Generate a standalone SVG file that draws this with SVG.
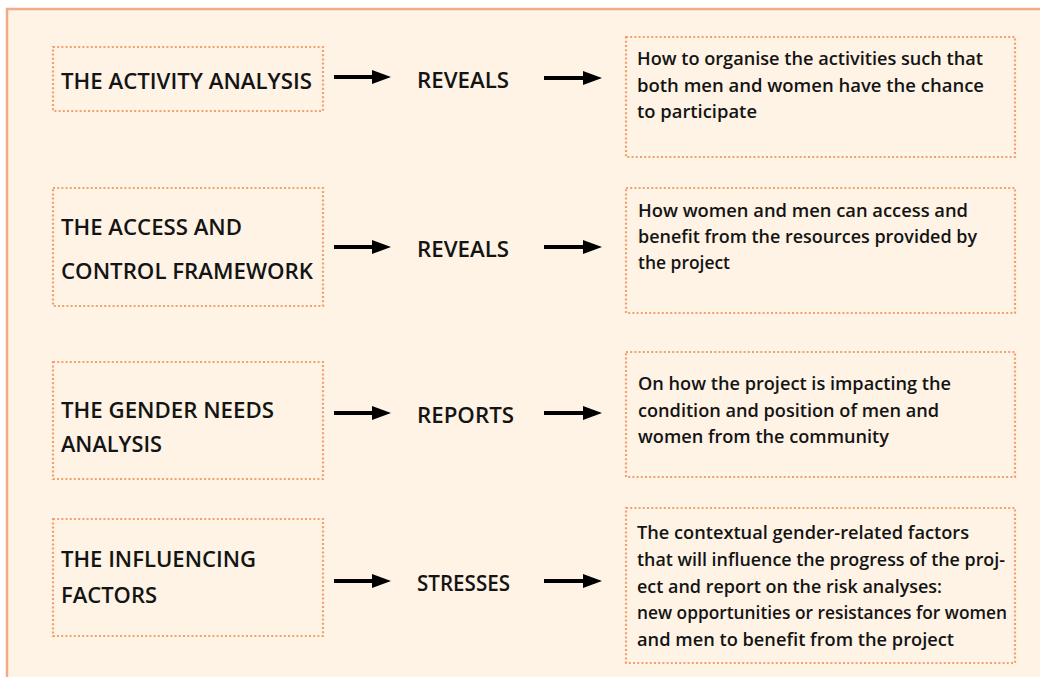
<svg xmlns="http://www.w3.org/2000/svg" width="1040" height="677" viewBox="0 0 1040 677">
<defs>
<style>
.frame{fill:#FEF3E5;stroke:#EFAB8A;stroke-width:2.5}
.box{fill:none;stroke:#F2A16E;stroke-width:2.2;stroke-dasharray:2 2.2}
.t{font-family:"Open Sans","Liberation Sans",sans-serif;fill:#141414;font-weight:600}
.h{font-size:21px}
.b{font-size:18px}
.m{font-size:21px}
.arr{stroke:#000;stroke-width:4;fill:none;marker-end:url(#ah)}
</style>
<marker id="ah" markerUnits="userSpaceOnUse" viewBox="0 0 19 14" refX="1" refY="7" markerWidth="19" markerHeight="14" orient="auto">
<path d="M0,0 L19,7 L0,14 z" fill="#000"/>
</marker>
</defs>
<rect x="0" y="0" width="1040" height="677" fill="#fff"/>
<rect class="frame" x="7" y="9" width="1045" height="700"/>

<g id="connectors">
<line class="arr" x1="334" y1="77" x2="373" y2="77"/>
<line class="arr" x1="544" y1="78" x2="584" y2="78"/>
<line class="arr" x1="334" y1="247" x2="373" y2="247"/>
<line class="arr" x1="544" y1="247" x2="584" y2="247"/>
<line class="arr" x1="334" y1="413" x2="373" y2="413"/>
<line class="arr" x1="544" y1="413" x2="584" y2="413"/>
<line class="arr" x1="334" y1="581" x2="373" y2="581"/>
<line class="arr" x1="544" y1="581" x2="584" y2="581"/>
</g>

<g id="activity-analysis">
<rect class="box" x="53" y="47" width="270" height="64"/>
<text class="t h" x="61" y="89" textLength="251" lengthAdjust="spacingAndGlyphs">THE ACTIVITY ANALYSIS</text>
</g>
<g id="reveals-1"><text class="t m" x="417" y="88" textLength="92" lengthAdjust="spacingAndGlyphs">REVEALS</text></g>
<g id="activity-result">
<rect class="box" x="626" y="37" width="389" height="120"/>
<text class="t b" x="637" y="65" textLength="346" lengthAdjust="spacingAndGlyphs">How to organise the activities such that</text>
<text class="t b" x="637" y="92" textLength="347" lengthAdjust="spacingAndGlyphs">both men and women have the chance</text>
<text class="t b" x="637" y="118" textLength="120" lengthAdjust="spacingAndGlyphs">to participate</text>
</g>

<g id="access-control">
<rect class="box" x="53" y="188" width="270" height="118"/>
<text class="t h" x="61" y="235" textLength="181" lengthAdjust="spacingAndGlyphs">THE ACCESS AND</text>
<text class="t h" x="61" y="279" textLength="252" lengthAdjust="spacingAndGlyphs">CONTROL FRAMEWORK</text>
</g>
<g id="reveals-2"><text class="t m" x="417" y="257" textLength="92" lengthAdjust="spacingAndGlyphs">REVEALS</text></g>
<g id="access-result">
<rect class="box" x="626" y="188" width="389" height="125"/>
<text class="t b" x="638" y="217" textLength="330" lengthAdjust="spacingAndGlyphs">How women and men can access and</text>
<text class="t b" x="638" y="243" textLength="339" lengthAdjust="spacingAndGlyphs">benefit from the resources provided by</text>
<text class="t b" x="638" y="269" textLength="92" lengthAdjust="spacingAndGlyphs">the project</text>
</g>

<g id="gender-needs">
<rect class="box" x="53" y="362" width="270" height="117"/>
<text class="t h" x="61" y="418" textLength="213" lengthAdjust="spacingAndGlyphs">THE GENDER NEEDS</text>
<text class="t h" x="61" y="452" textLength="101" lengthAdjust="spacingAndGlyphs">ANALYSIS</text>
</g>
<g id="reports"><text class="t m" x="417" y="423" textLength="97" lengthAdjust="spacingAndGlyphs">REPORTS</text></g>
<g id="gender-result">
<rect class="box" x="626" y="352" width="389" height="125"/>
<text class="t b" x="638" y="390" textLength="313" lengthAdjust="spacingAndGlyphs">On how the project is impacting the</text>
<text class="t b" x="638" y="417" textLength="301" lengthAdjust="spacingAndGlyphs">condition and position of men and</text>
<text class="t b" x="638" y="443" textLength="251" lengthAdjust="spacingAndGlyphs">women from the community</text>
</g>

<g id="influencing-factors">
<rect class="box" x="53" y="519" width="270" height="117"/>
<text class="t h" x="61" y="567" textLength="195" lengthAdjust="spacingAndGlyphs">THE INFLUENCING</text>
<text class="t h" x="61" y="603" textLength="96" lengthAdjust="spacingAndGlyphs">FACTORS</text>
</g>
<g id="stresses"><text class="t m" x="417" y="591" textLength="93" lengthAdjust="spacingAndGlyphs">STRESSES</text></g>
<g id="influencing-result">
<rect class="box" x="626" y="508" width="389" height="155"/>
<text class="t b" x="637" y="539" textLength="332" lengthAdjust="spacingAndGlyphs">The contextual gender-related factors</text>
<text class="t b" x="637" y="566" textLength="368" lengthAdjust="spacingAndGlyphs">that will influence the progress of the proj-</text>
<text class="t b" x="637" y="593" textLength="305" lengthAdjust="spacingAndGlyphs">ect and report on the risk analyses:</text>
<text class="t b" x="637" y="619" textLength="370" lengthAdjust="spacingAndGlyphs">new opportunities or resistances for women</text>
<text class="t b" x="637" y="646" textLength="317" lengthAdjust="spacingAndGlyphs">and men to benefit from the project</text>
</g>
</svg>
